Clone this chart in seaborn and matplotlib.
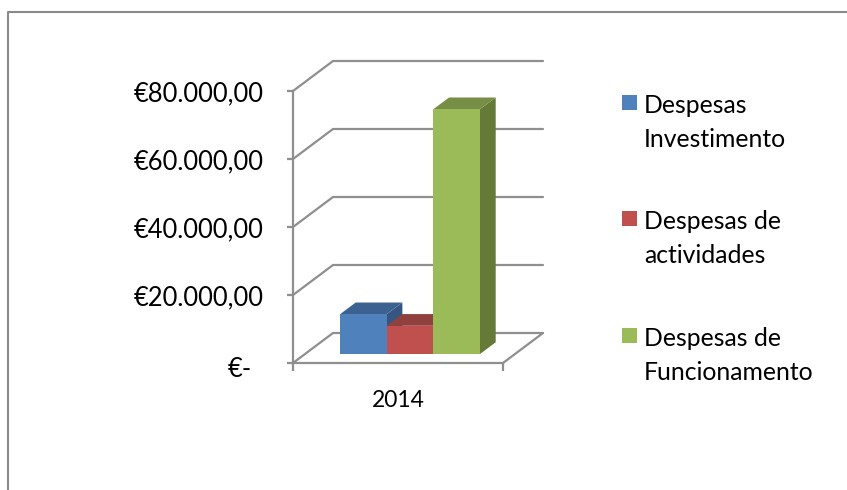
import pandas as pd
import matplotlib.pyplot as plt
import seaborn as sns
from matplotlib.lines import Line2D
from matplotlib.patches import Polygon, Rectangle
from matplotlib.transforms import Affine2D

years = ["2014"]
series = ["Despesas\nInvestimento", "Despesas de\nactividades", "Despesas de\nFuncionamento"]
values = [11700, 8300, 72000]
y_ticks = [0, 20000, 40000, 60000, 80000]
y_labels = ["€-", "€20.000,00", "€40.000,00", "€60.000,00", "€80.000,00"]
colors = ["#4F81BD", "#C0504D", "#9BBB59"]
top_colors = ["#3C6291", "#90403D", "#778E47"]
side_colors = ["#355680", "#7F3836", "#667A38"]
line_color = "#8F8F8F"

sns.set_theme(style="white")
plt.rcParams["font.family"] = ["Lato", "DejaVu Sans"]

W, H = 847, 490
fig = plt.figure(figsize=(W / 100, H / 100), dpi=100)
# front plane of the fake 3d box, in pixels from the top left
ax = fig.add_axes([293 / W, (H - 363) / H, 210 / W, 272 / H])

df = pd.DataFrame({"ano": years * 3, "tipo": series, "valor": values})
sns.barplot(data=df, x="ano", y="valor", hue="tipo", palette=colors, saturation=1,
            width=140 / 210, legend=False, ax=ax)
ax.set_xlim(-0.5, 0.5)
ax.set_ylim(0, 80000)
ax.set_xlabel("")
ax.set_ylabel("")

px_x = 1 / 210
px_y = 80000 / 272

# walls and floor
for v in y_ticks:
    ax.plot([-0.5, -0.5 + 40 * px_x, 0.5 + 40 * px_x], [v, v + 30 * px_y, v + 30 * px_y],
            color=line_color, lw=1.6, clip_on=False, zorder=1)
ax.plot([0.5, 0.5 + 40 * px_x], [0, 30 * px_y], color=line_color, lw=1.6, clip_on=False, zorder=1)

# bars sit a bit inside the box, then get top and side faces
shift = ax.transData + Affine2D().translate(12, 9)
bars = list(ax.patches)
for i, bar in enumerate(bars):
    bar.set_transform(shift)
    bar.set_clip_on(False)
    bar.set_linewidth(0)
    bar.set_zorder(3)
    x0 = bar.get_x()
    x1 = x0 + bar.get_width()
    h = bar.get_height()
    dx = 15.7 * px_x
    dy = 11.7 * px_y
    ax.add_patch(Polygon([(x1, 0), (x1 + dx, dy), (x1 + dx, h + dy), (x1, h)],
                         facecolor=side_colors[i], edgecolor="none", transform=shift,
                         clip_on=False, zorder=2.5))
    # top goes over the side of the bar to its left
    ax.add_patch(Polygon([(x0, h), (x1, h), (x1 + dx, h + dy), (x0 + dx, h + dy)],
                         facecolor=top_colors[i], edgecolor="none", transform=shift,
                         clip_on=False, zorder=2.6))

sns.despine(ax=ax, top=True, right=True)
for s in ["left", "bottom"]:
    ax.spines[s].set_color(line_color)
    ax.spines[s].set_linewidth(1.6)
    ax.spines[s].set_zorder(1.5)

ax.set_yticks(y_ticks, labels=y_labels)
ax.set_xticks([0], labels=years)
ax.set_xticks([-0.5, 0.5], minor=True)
ax.tick_params(axis="y", length=4.5, width=1.6, color=line_color, pad=16.5, labelsize=18.4, labelcolor="black", left=True)
ax.tick_params(axis="x", which="major", length=0, pad=19.5, labelsize=16.5, labelcolor="black")
ax.tick_params(axis="x", which="minor", length=6, width=1.6, color=line_color, bottom=True)
zero = ax.get_yticklabels()[0]
zero.set_transform(zero.get_transform() + Affine2D().translate(-12, -4))

# legend by hand, the label wraps and the marker stays on the first line
legend_tops = [95, 211, 328]
for name, color, top in zip(series, colors, legend_tops):
    fig.add_artist(Rectangle((622 / W, (H - top - 15) / H), 15 / W, 15 / H, facecolor=color,
                             edgecolor="none", transform=fig.transFigure))
    fig.text(644 / W, (H - top + 1) / H, name, fontsize=17.8, color="black", va="top", ha="left",
             linespacing=1.56)

# outer chart frame, cropped at right and bottom
fig.add_artist(Line2D([7.5 / W, 7.5 / W, 1], [0, (H - 12) / H, (H - 12) / H], color="#8A8A8A", lw=1.5,
                      transform=fig.transFigure))

fig.savefig("out.png", dpi=100)
